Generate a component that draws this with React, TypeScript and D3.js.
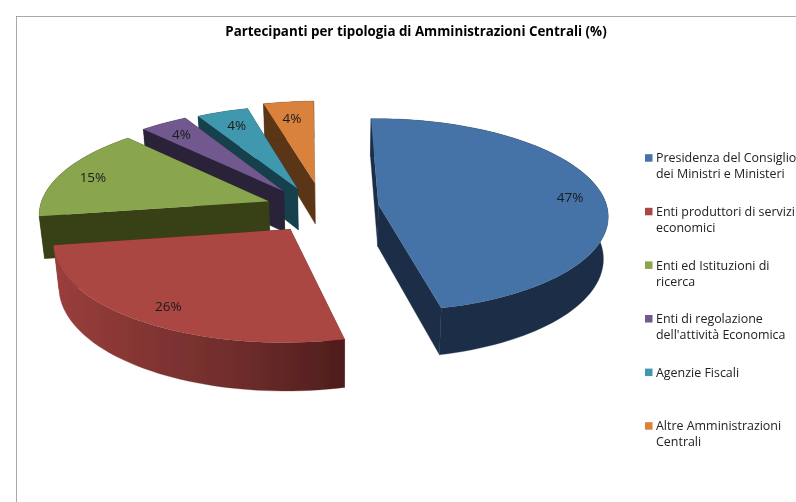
import React from "react";
import * as d3 from "d3";

const categories = [
  ["Presidenza del Consiglio", "dei Ministri e Ministeri"],
  ["Enti produttori di servizi", "economici"],
  ["Enti ed Istituzioni di", "ricerca"],
  ["Enti di regolazione", "dell'attività Economica"],
  ["Agenzie Fiscali"],
  ["Altre Amministrazioni", "Centrali"],
];
const values = [46.6, 26.2, 15.3, 3.8, 4.1, 4.0];
const topColors = ["#4572a7", "#aa4643", "#89a54e", "#71588f", "#4198af", "#d9823c"];
const sideColors = ["#1c2f47", "#6e2b2a", "#384019", "#2b2138", "#183f4c", "#5a3415"];
const explode = [0.26, 0.2, 0.22, 0.2, 0.2, 0.2];
const shiftU = [0.015, 0.005, 0, -0.025, -0.007, 0.02];
const shiftW = [-0.015, -0.07, -0.02, 0, 0, 0.05];
const labelDx = [2, 3, 0, 1, 4, 0];
const labelDy = [3, 0, 1, 2, 3, 5];
const title = "Partecipanti per tipologia di Amministrazioni Centrali (%)";

const W = 796, H = 502;
// perspective camera
const D = 9.19, F = 2100, G = 8070, Yh = -672, Xc = 340, U0 = -0.105, drop = 385, nadir = 0.018;
const rotation = (-1 * Math.PI) / 180;

type P = [number, number];
const project = (u: number, w: number, bottom = false): P => {
  const dist = D + w;
  const x = Xc + (F * (u + U0)) / dist;
  const y = Yh + G / dist;
  return bottom ? [Xc + (x - Xc) * (1 - nadir), y + drop / dist] : [x, y];
};

const arcs = d3.pie<number>().sort(null).startAngle(rotation).endAngle(rotation + Math.PI * 2)(values);
const line = d3.line<P>();
const step = (Math.PI * 2) / 180;

const slices = arcs.map((a, i) => {
  const mid = (a.startAngle + a.endAngle) / 2;
  const au = explode[i] * Math.sin(mid) + shiftU[i];
  const aw = explode[i] * Math.cos(mid) + shiftW[i];
  const n = Math.max(2, Math.ceil((a.endAngle - a.startAngle) / step));
  const angles = d3.range(n + 1).map((k) => a.startAngle + ((a.endAngle - a.startAngle) * k) / n);
  const rim = (t: number, b: boolean) => project(au + Math.sin(t), aw + Math.cos(t), b);
  const topRim = angles.map((t) => rim(t, false));
  const botRim = angles.map((t) => rim(t, true));
  const apexT = project(au, aw);
  const apexB = project(au, aw, true);
  const top = line([apexT, ...topRim])! + "Z";
  const arcSide = line([...topRim, ...[...botRim].reverse()])! + "Z";
  const wallA = line([apexT, topRim[0], botRim[0], apexB])! + "Z";
  const wallB = line([apexT, topRim[n], botRim[n], apexB])! + "Z";
  const p = project(au + 0.85 * Math.sin(mid), aw + 0.85 * Math.cos(mid));
  const lab: P = [p[0] + labelDx[i], p[1] + labelDy[i]];
  return { i, aw, top, arcSide, wallA, wallB, lab };
});
const order = [...slices].sort((a, b) => b.aw - a.aw);

const legendY = d3.scalePoint<number>().domain(d3.range(categories.length)).range([158, 426]);

export default function App() {
  return (
    <svg width={W} height={H} viewBox={`0 0 ${W} ${H}`} style={{ position: "absolute", left: 0, top: 0, background: "#fff" }}>
      <defs>
        <linearGradient id="redSide" gradientUnits="userSpaceOnUse" x1={55} x2={344} y1={0} y2={0}>
          <stop offset="0" stopColor="#9a3f3c" />
          <stop offset="0.3" stopColor="#843533" />
          <stop offset="0.65" stopColor="#6e2c2b" />
          <stop offset="1" stopColor="#4f1d1c" />
        </linearGradient>
        <filter id="soft" x="0" y="0" width="100%" height="100%">
          <feGaussianBlur stdDeviation="0.5" />
        </filter>
      </defs>
      <g filter="url(#soft)">
        <path d={`M16 ${H}V16H${W}`} fill="none" stroke="#8f8f8f" strokeWidth={1.5} />
        {order.map((s) => {
          const side = s.i === 1 ? "url(#redSide)" : sideColors[s.i];
          return (
            <g key={s.i}>
              <path d={s.wallA} fill={sideColors[s.i]} stroke={sideColors[s.i]} strokeWidth={0.3} />
              <path d={s.wallB} fill={sideColors[s.i]} stroke={sideColors[s.i]} strokeWidth={0.3} />
              <path d={s.arcSide} fill={side} stroke={side} strokeWidth={0.3} />
              <path d={s.top} fill={topColors[s.i]} />
            </g>
          );
        })}
        {slices.map((s) => (
          <text key={s.i} x={s.lab[0]} y={s.lab[1]} dy="0.35em" textAnchor="middle" fontFamily="'Open Sans'" fontSize={13.5} fill="#1a1a1a">
            {Math.round(values[s.i])}%
          </text>
        ))}
        <text x={416} y={31} dy="0.35em" textAnchor="middle" fontFamily="'Open Sans'" fontWeight={700} fontSize={13.35} fill="#000">
          {title}
        </text>
        {categories.map((lines, i) => (
          <g key={i}>
            <rect x={645} y={legendY(i)! - 3.8} width={7.5} height={7.5} fill={topColors[i]} />
            {lines.map((t, k) => (
              <text key={k} x={656} y={legendY(i)! + k * 16} dy="0.35em" fontFamily="'Open Sans'" fontSize={12.45} fill="#222">
                {t}
              </text>
            ))}
          </g>
        ))}
      </g>
    </svg>
  );
}
